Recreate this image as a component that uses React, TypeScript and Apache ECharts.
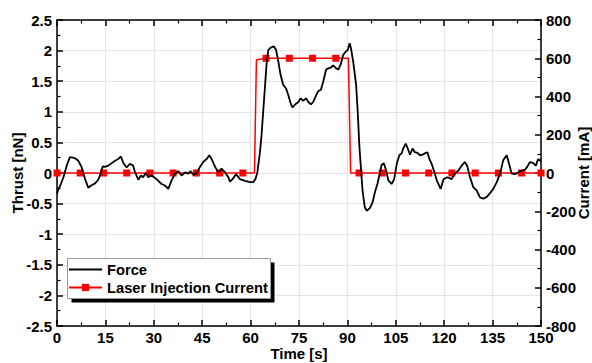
import React, { useEffect, useRef } from "react";
import * as echarts from "echarts";

// Force (thrust) trace, nN
const forceTime = [
  0, 0.4, 1.2, 2, 3, 4, 5, 5.6, 6.6, 7.6, 8.7, 9.7, 10.7, 11.8, 12.8, 13.5, 14.2, 14.9, 15.9, 16.9,
  18, 19, 19.8, 20.6, 21.6, 22.6, 23.6, 24.2, 25.2, 26, 26.7, 27.5, 28.3, 29.3, 30.4, 31.4, 32.4, 33.3,
  34, 34.5, 35.5, 36.6, 37.6, 38.6, 39.7, 40.7, 41.4, 42.2, 43.3, 44.3, 45.3, 46.4, 47.2, 47.9, 49,
  50, 51, 52.1, 53.1, 53.6, 54.4, 55.5, 56.7, 58.3, 59.8, 60.8, 61.5, 62.1, 62.9, 63.4, 63.9, 64.5,
  65, 65.5, 66.2, 67.2, 67.9, 68.6, 69.3, 70.1, 71, 71.7, 72.4, 73, 73.8, 74.8, 75.5, 76.3, 77.2,
  77.9, 78.7, 79.4, 80.3, 81, 81.8, 82.5, 83.4, 84.1, 84.8, 85.6, 86.5, 87.2, 87.9, 88.7, 89.6,
  90.1, 90.7, 91.1, 91.8, 92.7, 93.2, 93.7, 94.1, 94.7, 95.4, 96, 97, 97.8, 98.5, 99.3, 99.9, 100.6,
  101.3, 102, 102.7, 103.7, 104.5, 105.3, 106.1, 106.8, 107.3, 108.1, 108.7, 109.4, 110.2, 110.9,
  111.7, 112.5, 113.3, 114, 114.8, 115.4, 116.1, 116.8, 117.7, 118.9, 119.8, 121, 122.3, 123.3,
  124.4, 125.4, 126.4, 127.1, 128, 129, 130.1, 131.1, 132.1, 133.2, 134.2, 135.2, 136.3, 137.3,
  138.3, 139.4, 140.1, 140.9, 141.9, 143, 144, 145, 145.7, 146.6, 147.6, 148.4, 149.1, 149.7, 150,
];
const forceThrust = [
  -0.34, -0.27, -0.18, -0.07, 0.12, 0.26, 0.25, 0.24, 0.2, 0.1, -0.1, -0.24, -0.2, -0.17, -0.11, -0.01, 0.11, 0.1, 0.12, 0.16,
  0.2, 0.23, 0.27, 0.16, 0.09, 0.15, 0.12, 0.01, -0.11, -0.04, -0.07, 0, -0.07, -0.04, -0.08, -0.13, -0.18, -0.2,
  -0.23, -0.26, -0.12, -0.01, 0.03, -0.04, 0.01, -0.01, 0.03, -0.03, 0, 0.1, 0.18, 0.23, 0.29, 0.23, 0.1,
  0.01, 0.07, 0.01, -0.07, -0.14, -0.1, -0.02, -0.1, -0.13, -0.15, -0.15, -0.1, 0.01, 0.34, 0.62, 1.0, 1.44,
  1.82, 2.01, 2.05, 2.07, 2.01, 1.82, 1.6, 1.44, 1.38, 1.27, 1.14, 1.07, 1.12, 1.16, 1.22, 1.18, 1.22,
  1.16, 1.12, 1.16, 1.27, 1.34, 1.36, 1.49, 1.69, 1.71, 1.72, 1.76, 1.71, 1.69, 1.77, 1.93, 1.99,
  2.01, 2.12, 2.04, 1.82, 1.44, 1.0, 0.45, 0.15, -0.29, -0.56, -0.62, -0.57, -0.48, -0.32, -0.18, -0.04, 0.13,
  0.16, 0.04, -0.12, -0.18, -0.1, 0.15, 0.29, 0.32, 0.4, 0.48, 0.4, 0.3, 0.4, 0.34,
  0.33, 0.29, 0.3, 0.32, 0.34, 0.23, 0.15, 0.04, -0.12, -0.26, -0.1, -0.07, -0.1, -0.01,
  0.04, 0.12, 0.18, 0.12, -0.07, -0.23, -0.29, -0.4, -0.42, -0.39, -0.33, -0.26, -0.15, -0.01,
  0.21, 0.29, 0.15, -0.01, -0.02, 0.01, 0.04, 0.05, 0.1, 0.18, 0.16, 0.12, 0.23, 0.2, 0.22,
];

// Laser injection current, mA (sampled points shown with markers)
const currentMarkerTime = [
  0, 7.2, 14.4, 21.6, 28.8, 36, 43.2, 50.4, 57.6, 64.8, 72, 79.2, 86.4, 93.6, 100.8, 108, 115.2,
  122.4, 129.6, 136.8, 144, 150,
];
const currentMarkerValue = [
  0, 0, 0, 0, 0, 0, 0, 0, 0, 600, 600, 600, 600, 0, 0, 0, 0, 0, 0, 0, 0, 0,
];
// switching edges (no markers)
const currentEdgeTime = [61.2, 61.8, 90.3, 91.0];
const currentEdgeValue = [0, 592, 600, 0];

const timeTicks = { min: 0, max: 150, interval: 15 };
const thrustTicks = { min: -2.5, max: 2.5, interval: 0.5 };
const currentTicks = { min: -800, max: 800, interval: 200 };

const FONT = "'Liberation Sans', Arial, sans-serif";

export default function App() {
  const ref = useRef<HTMLDivElement>(null);

  useEffect(() => {
    if (!ref.current) return;
    const chart = echarts.init(ref.current, undefined, { renderer: "svg" });

    const forceData = forceTime.map((t, i) => [t, forceThrust[i]]);
    const currentData = [
      ...currentMarkerTime.map((t, i) => ({ value: [t, currentMarkerValue[i]] })),
      ...currentEdgeTime.map((t, i) => ({ value: [t, currentEdgeValue[i]], symbol: "none" })),
    ].sort((a, b) => a.value[0] - b.value[0]);

    const axisLine = { show: true, onZero: false, lineStyle: { color: "#000", width: 1.5 } };
    const tickInside = { show: true, inside: true, length: 6, lineStyle: { color: "#000", width: 1.5 } };
    const minorInside = { show: true, splitNumber: 2, length: 3.5, lineStyle: { color: "#000", width: 1.2 } };
    const labelStyle = { color: "#000", fontSize: 15, fontWeight: "bold" as const, fontFamily: FONT };
    const nameStyle = { color: "#000", fontSize: 15, fontWeight: "bold" as const, fontFamily: FONT };

    chart.setOption({
      animation: false,
      textStyle: { fontFamily: FONT },
      grid: { left: 57, right: 51, top: 20, bottom: 37, containLabel: false, outerBoundsMode: "none" },
      legend: {
        orient: "vertical",
        left: 68,
        top: 262,
        padding: 0,
        itemWidth: 33,
        itemHeight: 9,
        itemGap: 3,
        textStyle: { ...nameStyle, fontSize: 14.7 },
        data: [
          { name: "Force", icon: "path://M0,0 L33,0 L33,1.8 L0,1.8 Z" },
          { name: "Laser Injection Current" },
        ],
        z: 5,
      },
      graphic: [
        { type: "rect", z: 3, shape: { x: 71.5, y: 262.5, width: 203, height: 40 }, style: { fill: "#000" } },
        {
          type: "rect",
          z: 3,
          shape: { x: 67.5, y: 258.5, width: 203, height: 40 },
          style: { fill: "#fff", stroke: "#9a9a9a", lineWidth: 1 },
        },
      ],
      xAxis: [
        {
          type: "value",
          position: "bottom",
          ...timeTicks,
          name: "Time [s]",
          nameLocation: "middle",
          nameGap: 20,
          nameMoveOverlap: false,
          nameTextStyle: nameStyle,
          axisLine,
          axisTick: tickInside,
          minorTick: minorInside,
          axisLabel: { ...labelStyle, margin: 4 },
          splitLine: { show: true, lineStyle: { color: "#e4e4e4", width: 1 } },
        },
        {
          type: "value",
          position: "top",
          ...timeTicks,
          axisLine,
          axisTick: tickInside,
          minorTick: minorInside,
          axisLabel: { show: false },
          splitLine: { show: false },
        },
      ],
      yAxis: [
        {
          type: "value",
          position: "left",
          ...thrustTicks,
          name: "Thrust [nN]",
          nameLocation: "middle",
          nameGap: 32,
          nameMoveOverlap: false,
          nameTextStyle: nameStyle,
          axisLine,
          axisTick: tickInside,
          minorTick: minorInside,
          axisLabel: { ...labelStyle, margin: 5 },
          splitLine: { show: true, lineStyle: { color: "#e4e4e4", width: 1 } },
        },
        {
          type: "value",
          position: "right",
          ...currentTicks,
          name: "Current [mA]",
          nameLocation: "middle",
          nameGap: 35,
          nameMoveOverlap: false,
          nameRotate: 90,
          nameTextStyle: nameStyle,
          axisLine,
          axisTick: tickInside,
          minorTick: minorInside,
          axisLabel: { ...labelStyle, margin: 5 },
          splitLine: { show: false },
        },
      ],
      series: [
        {
          name: "Force",
          type: "line",
          xAxisIndex: 0,
          yAxisIndex: 0,
          data: forceData,
          showSymbol: false,
          symbol: "none",
          lineStyle: { color: "#000", width: 1.8 },
          itemStyle: { color: "#000" },
          z: 3,
        },
        {
          name: "Laser Injection Current",
          type: "line",
          xAxisIndex: 0,
          yAxisIndex: 1,
          data: currentData,
          symbol: "rect",
          symbolSize: 7,
          lineStyle: { color: "#ff0000", width: 1.5 },
          itemStyle: { color: "#ff0000" },
          z: 2,
        },
      ],
    });

    return () => chart.dispose();
  }, []);

  return (
    <div
      ref={ref}
      style={{ position: "fixed", left: 0, top: 0, width: 592, height: 363, background: "#fff" }}
    />
  );
}
